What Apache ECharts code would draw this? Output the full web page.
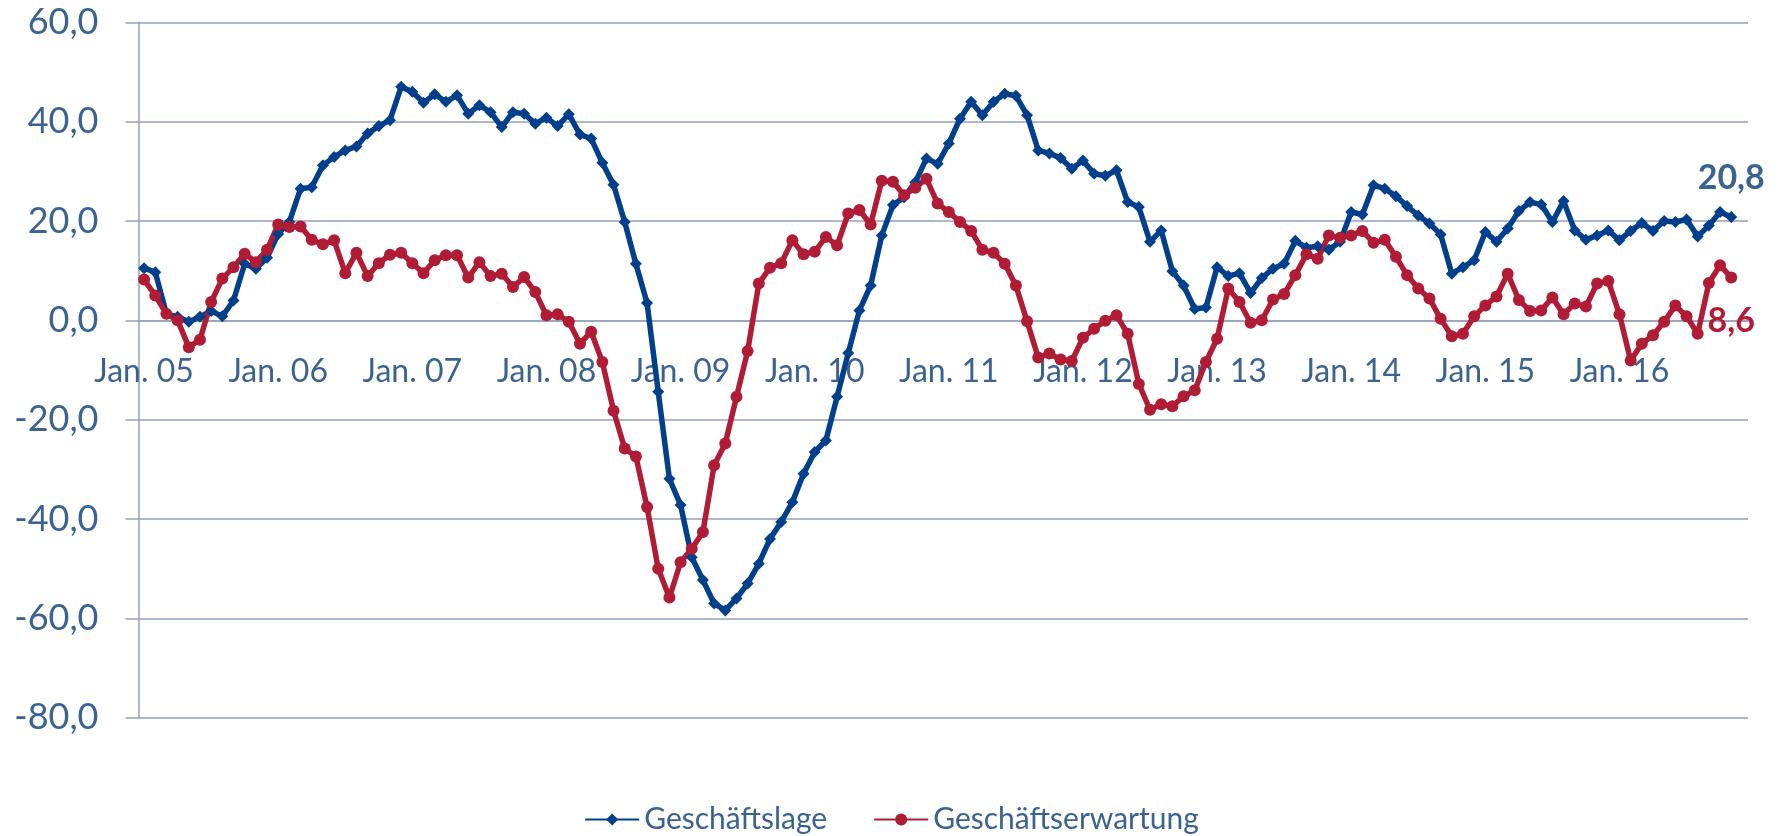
<!DOCTYPE html>
<html>
<head>
<meta charset="utf-8">
<title>Geschäftsklima</title>
<script src="https://cdn.jsdelivr.net/npm/echarts@6/dist/echarts.min.js"></script>
<style>
    html, body { margin: 0; padding: 0; background: #fff; }
    #chart { width: 1783px; height: 836px; }
</style>
</head>
<body>
<div id="chart"></div>
<script>
// Monate Jan. 05 .. Dez. 16 (letzter Monat ohne Wert)
var monthNames = ["Jan.", "Feb.", "Mrz.", "Apr.", "Mai", "Jun.", "Jul.", "Aug.", "Sep.", "Okt.", "Nov.", "Dez."];
var years = ["05", "06", "07", "08", "09", "10", "11", "12", "13", "14", "15", "16"];

var geschaeftslage = [
    10.5, 9.7, 1.3, 0.7, -0.3, 0.7, 1.9, 0.8, 4.0, 11.4, 10.4, 12.6,
    17.4, 19.8, 26.5, 26.8, 31.2, 32.9, 34.2, 35.0, 37.6, 39.1, 40.3, 47.0,
    46.0, 43.8, 45.5, 44.0, 45.3, 41.6, 43.3, 41.9, 38.9, 41.9, 41.6, 39.6,
    40.8, 39.1, 41.5, 37.4, 36.6, 31.7, 27.3, 19.8, 11.4, 3.5, -14.4, -31.9,
    -37.2, -47.7, -52.3, -57.0, -58.4, -56.0, -53.0, -49.0, -44.0, -40.6, -36.6, -30.9,
    -26.5, -24.2, -15.4, -6.6, 2.0, 7.0, 17.1, 23.2, 24.8, 27.8, 32.6, 31.5,
    35.6, 40.6, 44.0, 41.3, 44.0, 45.6, 45.2, 41.3, 34.2, 33.6, 32.7, 30.5,
    32.2, 29.5, 29.1, 30.2, 23.8, 22.8, 15.8, 18.1, 9.9, 7.0, 2.3, 2.6,
    10.7, 8.9, 9.5, 5.5, 8.5, 10.4, 11.4, 16.0, 14.6, 14.9, 14.2, 15.8,
    21.8, 21.3, 27.2, 26.5, 25.0, 23.0, 21.1, 19.5, 17.3, 9.4, 10.7, 12.1,
    17.8, 15.8, 18.5, 22.0, 23.8, 23.3, 19.8, 24.0, 18.1, 16.2, 17.1, 18.1,
    16.1, 18.0, 19.6, 18.0, 20.0, 19.8, 20.3, 16.9, 19.1, 21.8, 20.8
];

var geschaeftserwartung = [
    8.2, 5.0, 1.3, 0.0, -5.4, -3.9, 3.7, 8.4, 10.7, 13.4, 11.7, 14.2,
    19.3, 18.8, 18.9, 16.2, 15.3, 16.1, 9.5, 13.6, 8.9, 11.5, 13.2, 13.6,
    11.5, 9.5, 12.1, 13.1, 13.1, 8.6, 11.7, 8.9, 9.4, 6.7, 8.7, 5.7,
    1.0, 1.2, -0.3, -4.7, -2.3, -8.4, -18.2, -25.8, -27.4, -37.6, -50.0, -55.8,
    -48.7, -46.0, -42.6, -29.2, -24.8, -15.4, -6.2, 7.4, 10.6, 11.5, 16.1, 13.3,
    13.8, 16.8, 15.1, 21.5, 22.2, 19.3, 28.1, 27.9, 25.2, 26.7, 28.5, 23.5,
    21.8, 19.8, 18.0, 14.2, 13.6, 11.4, 7.0, -0.2, -7.5, -6.7, -7.9, -8.2,
    -3.5, -1.7, -0.1, 1.0, -2.7, -12.8, -18.0, -16.9, -17.3, -15.3, -14.1, -8.4,
    -3.7, 6.4, 3.7, -0.5, 0.0, 4.2, 5.3, 9.1, 13.3, 12.4, 17.1, 16.6,
    17.1, 18.0, 15.6, 16.2, 12.8, 9.1, 6.4, 4.4, 0.3, -3.2, -2.7, 0.8,
    3.0, 4.8, 9.4, 4.1, 1.9, 2.0, 4.6, 1.2, 3.4, 2.8, 7.4, 7.9,
    1.2, -8.1, -4.7, -3.0, -0.3, 3.0, 0.8, -2.7, 7.5, 11.1, 8.6
];

var yMin = -80, yMax = 60, yStep = 20;

var months = [];
years.forEach(function(y) {
    monthNames.forEach(function(m) {
        months.push(m + " " + y);
    });
});

var textColor = "#3a6391",
    gridColor = "#95a1ba",
    blue = "#003f8c",
    red = "#b01c35",
    font = "Lato";

var gridTop = 22.3,
    gridBottom = 118.3,
    plotHeight = 836 - gridTop - gridBottom;

function komma(v) {
    return (+v).toFixed(1).replace(".", ",");
}

// nur der letzte Punkt bekommt ein Label
function withEndLabel(values, pos, dist, color) {
    return values.map(function(v, i) {
        if (i < values.length - 1) return v;
        return {
            value: v,
            label: {
                show: true,
                position: pos,
                distance: dist,
                color: color,
                fontFamily: font,
                fontWeight: "bold",
                fontSize: 34,
                formatter: function(p) { return komma(p.value); }
            }
        };
    });
}

var chart = echarts.init(document.getElementById("chart"));

var option = {
    backgroundColor: "#fff",
    animation: false,
    grid: {
        left: 138.5,
        right: 35,
        top: gridTop,
        bottom: gridBottom,
        containLabel: false,
        outerBoundsMode: "none"
    },
    legend: {
        bottom: -3.5,
        left: "center",
        itemWidth: 54,
        itemHeight: 15,
        itemGap: 46,
        textStyle: { color: textColor, fontFamily: font, fontSize: 30 },
        data: ["Geschäftslage", "Geschäftserwartung"]
    },
    xAxis: {
        type: "category",
        data: months,
        boundaryGap: true,
        position: "bottom",
        // Achse sitzt auf der Nulllinie (wie in Excel)
        offset: -plotHeight * (0 - yMin) / (yMax - yMin),
        axisLine: { onZero: false, lineStyle: { color: gridColor, width: 1.5 } },
        axisTick: { interval: 11, length: 11, lineStyle: { color: gridColor, width: 1.5 } },
        axisLabel: {
            interval: 11,
            margin: 35,
            color: textColor,
            fontFamily: font,
            fontSize: 32
        },
        splitLine: { show: false }
    },
    yAxis: {
        type: "value",
        min: yMin,
        max: yMax,
        interval: yStep,
        axisLine: { show: true, lineStyle: { color: gridColor, width: 1.5 } },
        axisTick: { show: true, length: 13, lineStyle: { color: gridColor, width: 1.5 } },
        axisLabel: {
            margin: 40,
            color: textColor,
            fontFamily: font,
            fontSize: 36,
            formatter: komma
        },
        splitLine: { lineStyle: { color: gridColor, width: 1.5 } }
    },
    series: [{
            name: "Geschäftslage",
            type: "line",
            data: withEndLabel(geschaeftslage, "top", 16, textColor),
            symbol: "diamond",
            symbolSize: 12,
            showAllSymbol: true,
            color: blue,
            lineStyle: { color: blue, width: 5.5 },
            itemStyle: { color: blue }
        },
        {
            name: "Geschäftserwartung",
            type: "line",
            data: withEndLabel(geschaeftserwartung, "bottom", 20, red),
            symbol: "circle",
            symbolSize: 12,
            showAllSymbol: true,
            color: red,
            lineStyle: { color: red, width: 5.5 },
            itemStyle: { color: red }
        }
    ]
};

chart.setOption(option);
</script>
</body>
</html>
